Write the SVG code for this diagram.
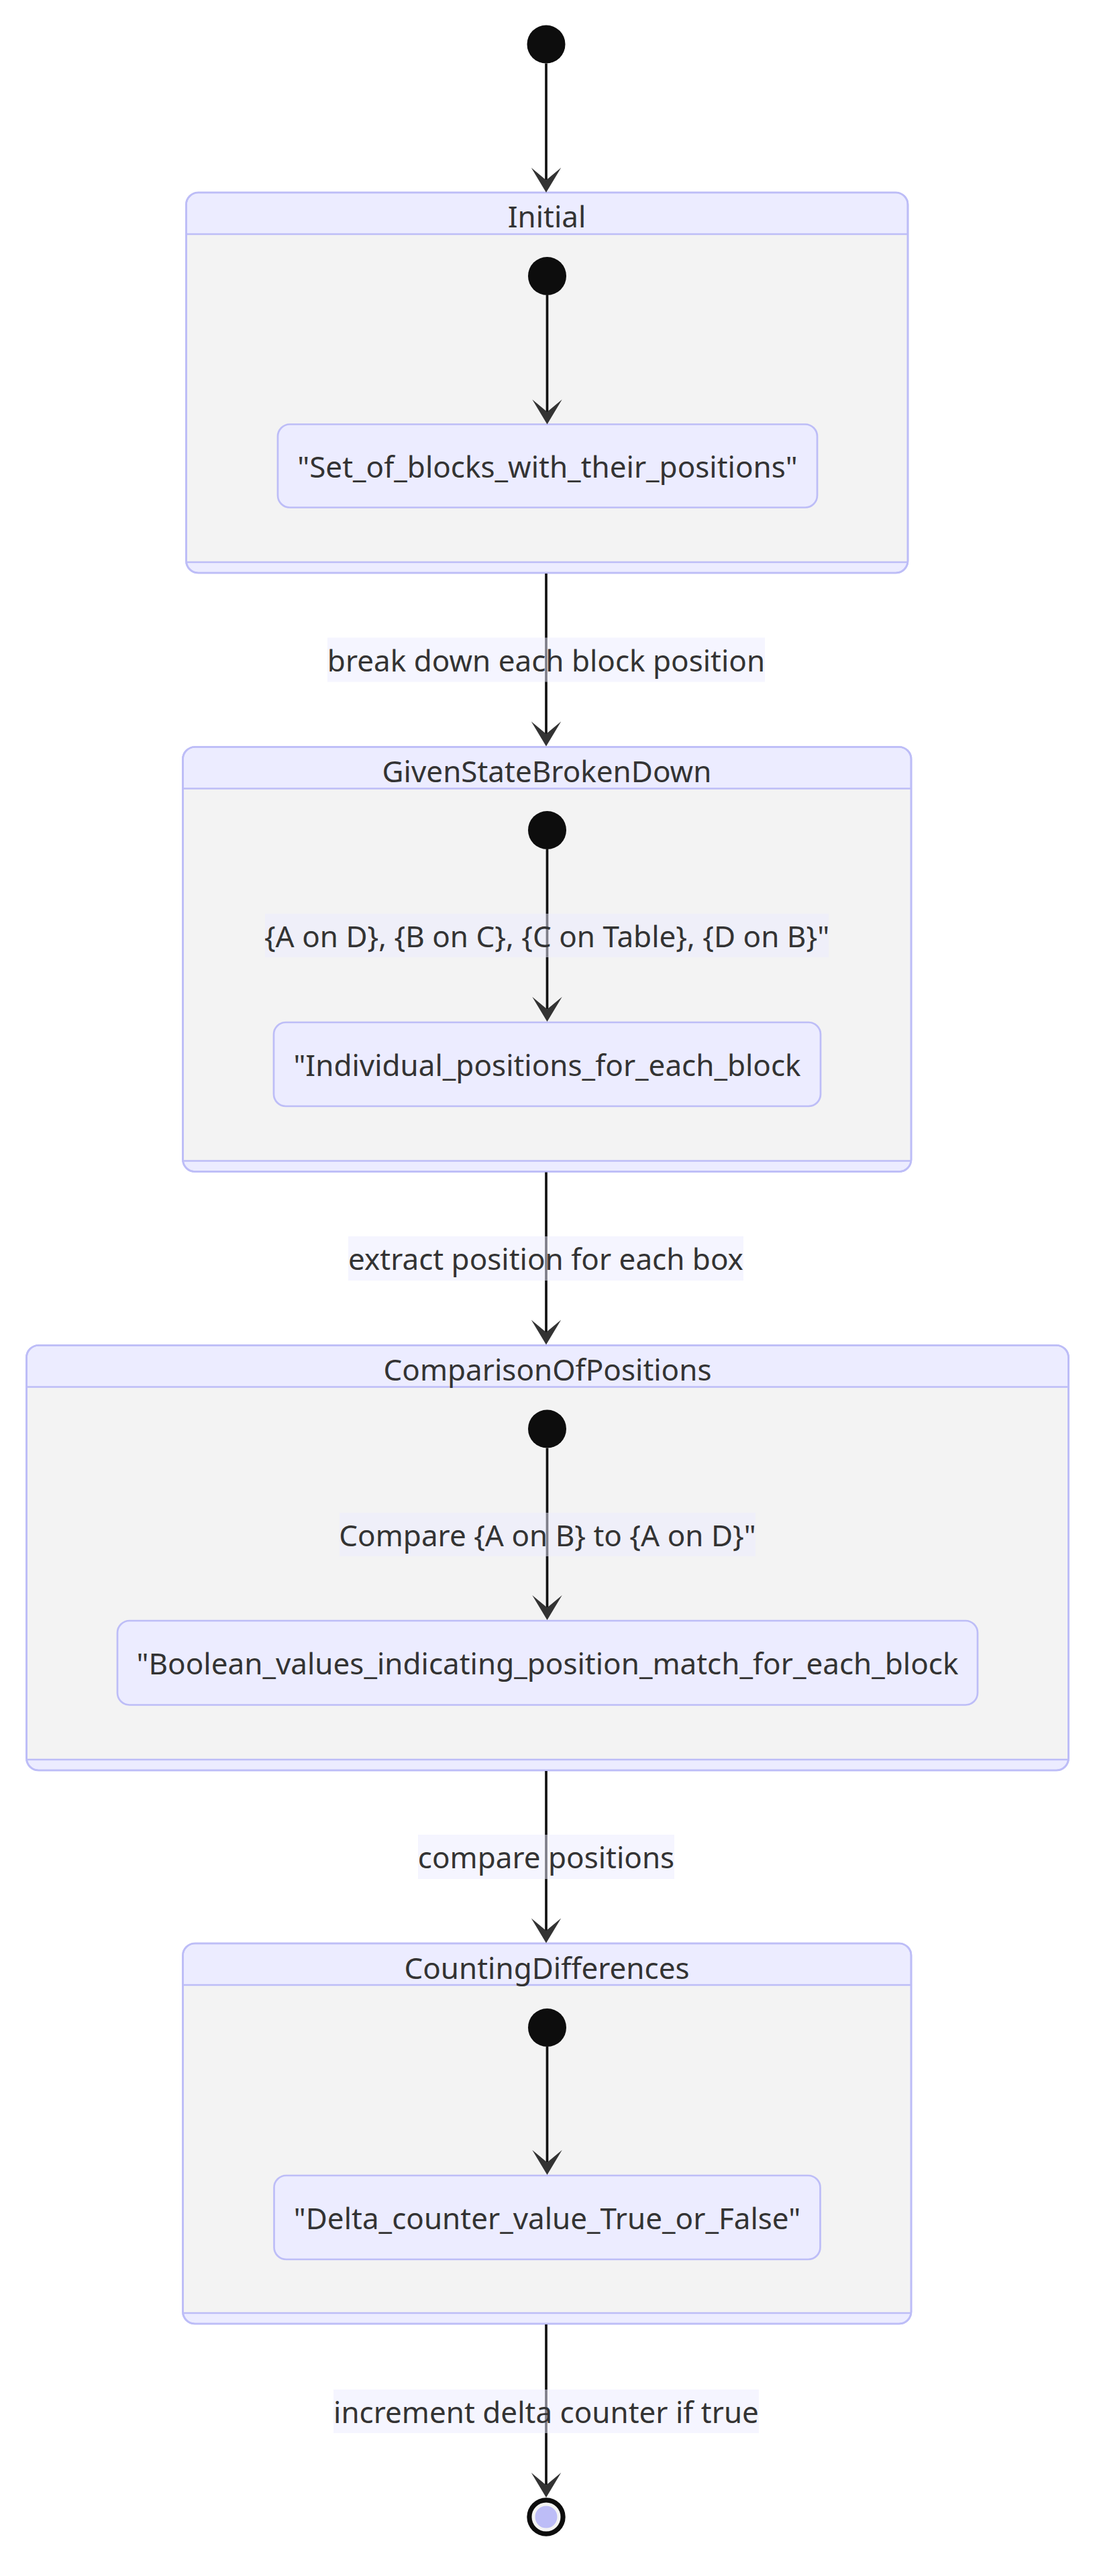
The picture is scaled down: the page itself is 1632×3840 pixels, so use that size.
<svg xmlns="http://www.w3.org/2000/svg" width="1632" height="3840" viewBox="0 0 1632 3840">
<style>
text{font-family:"Noto Sans","Open Sans",sans-serif;font-size:44px;fill:#333;text-anchor:middle}
.outer{fill:#ECECFF;stroke:#BDBDF7;stroke-width:2.7}
.frame{fill:none;stroke:#BDBDF7;stroke-width:2.7}
.body{fill:#F3F3F3}
.div{stroke:#BDBDF7;stroke-width:2.7}
.state{fill:#ECECFF;stroke:#BDBDF7;stroke-width:2.7}
.start{fill:#0d0d0d}
.edge{stroke:#111;stroke-width:3.7;fill:none;marker-end:url(#arrow)}
.lbl{fill:#ECECFF;fill-opacity:0.5}
</style>
<defs>
<marker id="arrow" markerUnits="userSpaceOnUse" viewBox="0 0 20 14" markerWidth="74" markerHeight="51.8" refX="14" refY="7" orient="auto">
<path d="M19,7 L9,13 L14,7 L9,1 Z" fill="#333"/>
</marker>
</defs>
<rect width="1632" height="3840" fill="#fff"/>

<g id="Initial">
<rect class="outer" x="277.5" y="287" width="1075.5" height="567" rx="18"/>
<rect class="body" x="279" y="349" width="1072.5" height="489"/>
<line class="div" x1="277.5" y1="349" x2="1353" y2="349"/>
<line class="div" x1="277.5" y1="838" x2="1353" y2="838"/>
<rect class="frame" x="277.5" y="287" width="1075.5" height="567" rx="18"/>
<text x="815" y="338.5">Initial</text>
</g>
<g id="GivenStateBrokenDown">
<rect class="outer" x="272.5" y="1113.5" width="1085.5" height="633" rx="18"/>
<rect class="body" x="274" y="1175.5" width="1082.5" height="555"/>
<line class="div" x1="272.5" y1="1175.5" x2="1358" y2="1175.5"/>
<line class="div" x1="272.5" y1="1730.5" x2="1358" y2="1730.5"/>
<rect class="frame" x="272.5" y="1113.5" width="1085.5" height="633" rx="18"/>
<text x="815" y="1165.5">GivenStateBrokenDown</text>
</g>
<g id="ComparisonOfPositions">
<rect class="outer" x="39.5" y="2005.5" width="1553" height="633.5" rx="18"/>
<rect class="body" x="41" y="2067.5" width="1550" height="555.5"/>
<line class="div" x1="39.5" y1="2067.5" x2="1592.5" y2="2067.5"/>
<line class="div" x1="39.5" y1="2623" x2="1592.5" y2="2623"/>
<rect class="frame" x="39.5" y="2005.5" width="1553" height="633.5" rx="18"/>
<text x="816" y="2057.5">ComparisonOfPositions</text>
</g>
<g id="CountingDifferences">
<rect class="outer" x="272.5" y="2897" width="1085.5" height="567" rx="18"/>
<rect class="body" x="274" y="2959" width="1082.5" height="489"/>
<line class="div" x1="272.5" y1="2959" x2="1358" y2="2959"/>
<line class="div" x1="272.5" y1="3448" x2="1358" y2="3448"/>
<rect class="frame" x="272.5" y="2897" width="1085.5" height="567" rx="18"/>
<text x="815" y="2949.5">CountingDifferences</text>
</g>

<g id="start_root"><circle class="start" cx="814" cy="66" r="28.5"/></g>
<g id="start_Initial"><circle class="start" cx="815.5" cy="411.5" r="28.5"/></g>
<g id="start_Given"><circle class="start" cx="815.5" cy="1237.5" r="28.5"/></g>
<g id="start_Comparison"><circle class="start" cx="815.5" cy="2130" r="28.5"/></g>
<g id="start_Counting"><circle class="start" cx="815.5" cy="3022.5" r="28.5"/></g>

<g id="Set_of_blocks">
<rect class="state" x="414" y="632.5" width="804" height="124" rx="18"/>
<text x="816" y="711.5">"Set_of_blocks_with_their_positions"</text>
</g>
<g id="Individual_positions">
<rect class="state" x="408" y="1524" width="815" height="125" rx="18"/>
<text x="815.5" y="1603.5">"Individual_positions_for_each_block</text>
</g>
<g id="Boolean_values">
<rect class="state" x="175" y="2416" width="1282" height="125.5" rx="18"/>
<text x="816" y="2496">"Boolean_values_indicating_position_match_for_each_block</text>
</g>
<g id="Delta_counter">
<rect class="state" x="408.5" y="3243" width="814" height="125" rx="18"/>
<text x="815.5" y="3322.5">"Delta_counter_value_True_or_False"</text>
</g>

<g id="end_state">
<circle cx="814" cy="3752" r="28.7" fill="#0d0d0d"/>
<circle cx="814" cy="3752" r="19" fill="#BDBDF7" stroke="#F3F3F3" stroke-width="5"/>
</g>

<g id="connectors">
<line class="edge" x1="814" y1="94.5" x2="814" y2="268.5"/>
<line class="edge" x1="815.5" y1="440" x2="815.5" y2="614"/>
<line class="edge" x1="814" y1="855" x2="814" y2="1094"/>
<line class="edge" x1="815.5" y1="1266" x2="815.5" y2="1504.5"/>
<line class="edge" x1="814" y1="1747.5" x2="814" y2="1986"/>
<line class="edge" x1="815.5" y1="2158.5" x2="815.5" y2="2396.5"/>
<line class="edge" x1="814" y1="2640" x2="814" y2="2878"/>
<line class="edge" x1="815.5" y1="3051" x2="815.5" y2="3223.5"/>
<line class="edge" x1="814" y1="3465" x2="814" y2="3704.5"/>
<g id="label_break">
<rect class="lbl" x="488" y="950.5" width="652" height="66"/>
<text x="814" y="1000.5">break down each block position</text>
</g>
<g id="label_blocks">
<rect class="lbl" x="395" y="1362" width="840" height="65"/>
<text x="815" y="1411.5">{A on D}, {B on C}, {C on Table}, {D on B}"</text>
</g>
<g id="label_extract">
<rect class="lbl" x="519" y="1843" width="589" height="66"/>
<text x="813.5" y="1893">extract position for each box</text>
</g>
<g id="label_compare_ab">
<rect class="lbl" x="506" y="2255" width="620" height="65"/>
<text x="816" y="2304.5">Compare {A on B} to {A on D}"</text>
</g>
<g id="label_compare">
<rect class="lbl" x="623" y="2735" width="382" height="66"/>
<text x="814" y="2785">compare positions</text>
</g>
<g id="label_increment">
<rect class="lbl" x="497" y="3562" width="634" height="65"/>
<text x="814" y="3611.5">increment delta counter if true</text>
</g>
</g>
</svg>
